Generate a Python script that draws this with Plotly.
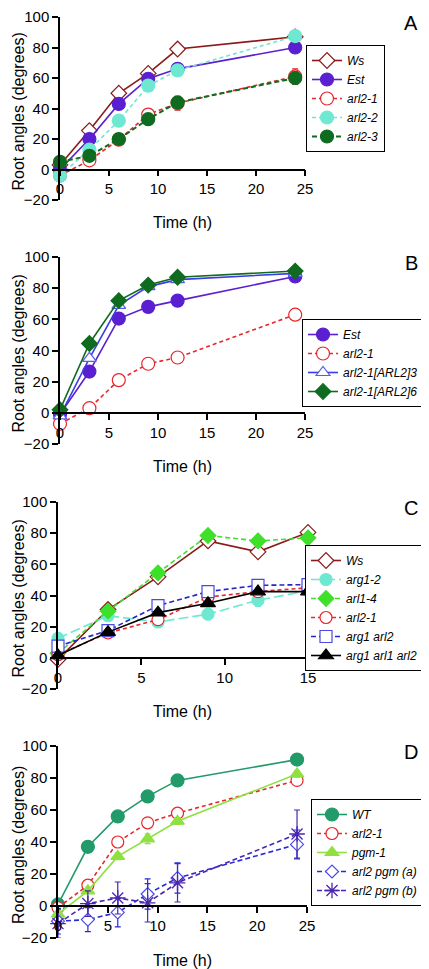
import plotly.graph_objects as go

PAGE_W, PAGE_H = 429, 969
OFF = 8  # default page body margin
W, H = PAGE_W - OFF, PAGE_H - OFF
FONT = "Liberation Sans, Arial, sans-serif"

# ---------------- data ----------------
tA = [0, 3, 6, 9, 12, 24]
A_ws = [3, 25.5, 50, 63, 79, 87]
A_est = [0, 20, 43, 59.5, 66, 80]
A_arl21 = [-4, 6, 19.5, 36, 43.5, 61]
A_arl21_err = [1, 1.5, 2, 3, 4.5, 5]
A_arl22 = [-4, 13, 32, 55, 65, 87.5]
A_arl23 = [5, 9, 20, 33, 44, 60]
A_arl23_err = [1, 1, 1.5, 2, 3, 4]

tB = [0, 3, 6, 9, 12, 24]
B_est = [-1, 26.5, 60.5, 68, 72, 87.5]
B_arl21 = [-7, 3, 21, 31.5, 35.5, 63]
B_arl21_err = [1, 1.5, 2, 2.5, 1.5, 2.5]
B_c3 = [-2, 35, 69, 81, 85.5, 89.5]
B_c6 = [2, 44.5, 72, 82, 87, 91]

tC = [0, 3, 6, 9, 12, 15]
C_ws = [-1, 31, 52, 75, 68, 80.5]
C_arg12 = [12.5, 27, 23, 28, 37, 43]
C_arg12_err = [2, 2, 3, 3.5, 4, 3]
C_arl14 = [3, 30, 54.5, 78.5, 75, 77]
C_arl21 = [2, 16, 24.5, 39, 42.5, 45]
C_aa = [7.5, 17.5, 33.5, 42.5, 46.5, 47]
C_aaa = [1.5, 16.5, 29, 35, 42.5, 42.5]

tD = [0, 3, 6, 9, 12, 24]
D_wt = [1, 37, 56, 68.5, 78.5, 91.5]
D_arl21 = [-1, 13, 40, 52, 58, 78.5]
D_pgm = [-5, 9.5, 31, 42, 53, 82.5]
D_pgm_err = [1, 1, 2, 3, 2, 2]
D_a = [-9.5, -8.5, -4, 7.5, 17.5, 38.5]
D_a_err = [8, 7.5, 9, 9.5, 9.5, 9]
D_b = [-11, 1.5, 5, 2, 14.5, 45]
D_b_err = [9, 8, 10, 12, 12, 15]

ytick_vals = [-20, 0, 20, 40, 60, 80, 100]
xticks_25 = [0, 5, 10, 15, 20, 25]
xticks_15 = [0, 5, 10, 15]

# ---------------- layout helpers (page pixel -> paper fraction) ----------------
def px_y(p):
    return 1 - (p - OFF) / H

def px_x(p):
    return (p - OFF) / W

panels = [
    # (letter, top px, bottom px, x0 px, x1 px, xmax, xticks, legend top, legend left)
    ("A", 17, 200, 60, 305, 25, xticks_25, 45, 306),
    ("B", 257, 444, 60, 305, 25, xticks_25, 319, 302),
    ("C", 502, 689, 58, 308, 15, xticks_15, 545, 305),
    ("D", 746, 938, 58, 307, 25, xticks_25, 799, 311),
]

fig = go.Figure()

def add(panel, x, y, name, color, symbol, size, dash="solid", width=1.6,
        mfill=None, mline=None, err=None, lw=1.2):
    i = panel + 1
    suffix = "" if i == 1 else str(i)
    marker = dict(symbol=symbol, size=size, color=mfill if mfill else color,
                  line=dict(color=mline if mline else color, width=lw))
    tr = go.Scatter(
        x=x, y=y, name="<i>" + name + "</i>", mode="lines+markers",
        line=dict(color=color, width=width, dash=dash),
        marker=marker, cliponaxis=False,
        xaxis="x" + suffix, yaxis="y" + suffix,
        legend="legend" + suffix,
    )
    if err is not None:
        tr.error_y = dict(type="data", array=err, visible=True, color=color,
                          thickness=1.2, width=3)
    fig.add_trace(tr)

MAROON = "#8b1a1a"
PURPLE = "#5a1fd0"
RED = "#e8262b"
AQUA = "#6fe8d2"
DKGREEN = "#0f6b1f"
BLUE3 = "#3b3be6"
BRGREEN = "#3ee02a"
BLUE = "#2525c8"
TEAL = "#229a6a"
LTGREEN = "#8fe040"
BLUEA = "#2a2ad8"
INDIGO = "#4a26b0"

# Panel A
add(0, tA, A_ws, "Ws", MAROON, "diamond", 12, mfill="white", mline=MAROON)
add(0, tA, A_est, "Est", PURPLE, "circle", 13)
add(0, tA, A_arl21, "arl2-1", RED, "circle", 13, dash="4px,3px", mfill="white", mline=RED, err=A_arl21_err)
add(0, tA, A_arl22, "arl2-2", AQUA, "circle", 13, dash="4px,3px")
add(0, tA, A_arl23, "arl2-3", DKGREEN, "circle", 13, dash="5px,3px", width=2, err=A_arl23_err)

# Panel B
add(1, tB, B_est, "Est", PURPLE, "circle", 13)
add(1, tB, B_arl21, "arl2-1", RED, "circle", 13, dash="4px,3px", mfill="white", mline=RED, err=B_arl21_err)
add(1, tB, B_c3, "arl2-1[ARL2]3", BLUE3, "triangle-up", 12, mfill="white", mline="#5a5af0")
add(1, tB, B_c6, "arl2-1[ARL2]6", DKGREEN, "diamond", 12)

# Panel C
add(2, tC, C_ws, "Ws", MAROON, "diamond", 12, mfill="white", mline=MAROON)
add(2, tC, C_arg12, "arg1-2", AQUA, "circle", 12, dash="10px,4px", err=C_arg12_err)
add(2, tC, C_arl14, "arl1-4", BRGREEN, "diamond", 12, dash="5px,3px")
add(2, tC, C_arl21, "arl2-1", RED, "circle", 12, dash="4px,3px", mfill="white", mline=RED)
add(2, tC, C_aa, "arg1 arl2", BLUE, "square", 12, dash="5px,3px", mfill="white", mline="#4a4ae0")
add(2, tC, C_aaa, "arg1 arl1 arl2", "black", "triangle-up", 13)

# Panel D
add(3, tD, D_wt, "WT", TEAL, "circle", 13)
add(3, tD, D_arl21, "arl2-1", RED, "circle", 12, dash="4px,3px", mfill="white", mline=RED)
add(3, tD, D_pgm, "pgm-1", LTGREEN, "triangle-up", 12, err=D_pgm_err)
add(3, tD, D_a, "arl2 pgm (a)", BLUEA, "diamond", 10, dash="5px,3px", mfill="white", mline="#4a4ae8", err=D_a_err)
add(3, tD, D_b, "arl2 pgm (b)", INDIGO, "asterisk-open", 13, dash="5px,3px", lw=1.3, err=D_b_err)

layout = dict(
    width=W, height=H, margin=dict(l=0, r=0, t=0, b=0, autoexpand=False),
    paper_bgcolor="white", plot_bgcolor="white",
    font=dict(family=FONT, size=15, color="black"),
    annotations=[],
)

for i, (letter, top, bot, x0, x1, xmax, xt, ltop, lleft) in enumerate(panels):
    suffix = "" if i == 0 else str(i + 1)
    yb, yt = px_y(bot), px_y(top)
    zero_pos = yb + (20 / 120) * (yt - yb)
    layout["xaxis" + suffix] = dict(
        domain=[px_x(x0), px_x(x1)], range=[0, xmax], anchor="free",
        position=zero_pos, showline=True, linecolor="black", linewidth=1.5,
        ticks="outside", ticklen=6, tickwidth=1.5, tickcolor="black",
        tickvals=xt, showgrid=False, zeroline=False, automargin=False,
        ticklabeloverflow="allow",
        tickfont=dict(family=FONT, size=15),
    )
    layout["yaxis" + suffix] = dict(
        domain=[yb, yt], range=[-20, 100], anchor="x" + suffix,
        showline=True, linecolor="black", linewidth=1.5,
        ticks="outside", ticklen=6, tickwidth=1.5, tickcolor="black",
        tickvals=ytick_vals, showgrid=False, zeroline=False, automargin=False,
        ticklabeloverflow="allow",
        tickfont=dict(family=FONT, size=15),
    )
    layout["legend" + suffix] = dict(
        x=px_x(lleft), y=px_y(ltop), xanchor="left", yanchor="top",
        bgcolor="white", bordercolor="black", borderwidth=1,
        font=dict(family=FONT, size=12), tracegroupgap=0,
        itemwidth=30,
    )
    mid = (top + bot) / 2
    common = dict(xref="paper", yref="paper", showarrow=False,
                  xanchor="center", yanchor="middle")
    layout["annotations"] += [
        dict(text="Root angles (degrees)", textangle=-90, x=px_x(18), y=px_y(mid + 3),
             font=dict(family=FONT, size=16), **common),
        dict(text="Time (h)", x=px_x(182), y=px_y(bot + 22),
             font=dict(family=FONT, size=16), **common),
        dict(text=letter, x=px_x(411), y=px_y(top + 6 if i else 23),
             font=dict(family=FONT, size=20), **common),
    ]

fig.update_layout(**layout)
fig.write_html("out.html")
